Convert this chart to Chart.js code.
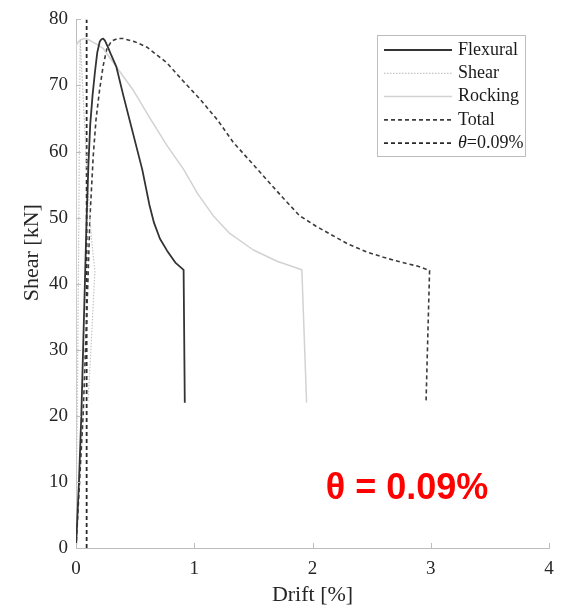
<!DOCTYPE html>
<html>
<head>
<meta charset="utf-8">
<script src="https://cdn.jsdelivr.net/npm/chart.js@4.4.1/dist/chart.umd.min.js"></script>
<style>
  body { margin: 0; background: #fff; }
  #wrap { width: 562px; height: 606px; position: relative; }
</style>
</head>
<body>
<div id="wrap"><canvas id="chart"></canvas></div>
<script>
// drift [%] and shear [kN]
const flexDrift  = [0, 0.025, 0.045, 0.06, 0.075, 0.09, 0.105, 0.12, 0.14, 0.16, 0.18, 0.2, 0.215, 0.23, 0.245, 0.27, 0.3, 0.34, 0.4, 0.48, 0.56, 0.62, 0.66, 0.71, 0.77, 0.84, 0.91, 0.92];
const flexShear  = [0, 10, 20, 30, 40, 50, 58, 64, 68.5, 72, 75, 76.6, 77.0, 77.1, 76.8, 75.8, 74.5, 72.9, 68.5, 62.9, 57.3, 52, 49.2, 46.8, 45, 43.2, 42.1, 22];

const shearDrift = [0, 0.01, 0.02, 0.028, 0.035, 0.05, 0.07, 0.09, 0.11, 0.13, 0.15, 0.16, 0.14, 0.12, 0.1];
const shearShear = [0, 20, 40, 60, 77, 72, 65, 58, 52, 47, 43.5, 42, 35, 28, 22];

const rockDrift  = [0, 0, 0.02, 0.05, 0.08, 0.12, 0.17, 0.23, 0.35, 0.48, 0.62, 0.77, 0.91, 1.03, 1.16, 1.3, 1.5, 1.7, 1.91, 1.93, 1.95];
const rockShear  = [0, 76, 76.6, 77, 77.1, 76.8, 76.3, 75.6, 72.6, 69.4, 65.2, 60.9, 57.3, 53.6, 50.3, 47.6, 45.1, 43.4, 42.1, 32, 22];

const totalDrift = [0, 0.03, 0.06, 0.08, 0.1, 0.118, 0.146, 0.17, 0.2, 0.23, 0.26, 0.3, 0.35, 0.4, 0.5, 0.6, 0.77, 0.9, 1.05, 1.2, 1.33, 1.47, 1.61, 1.75, 1.89, 2.03, 2.17, 2.3, 2.46, 2.6, 2.74, 2.88, 2.99, 2.96];
const totalShear = [0, 10, 20, 30, 40, 50, 59.4, 65, 69.4, 73, 75.5, 76.7, 77.1, 77.1, 76.6, 75.8, 73.4, 70.8, 67.9, 64.7, 61.4, 58.6, 55.8, 53, 50.3, 48.7, 47.3, 46, 44.8, 44, 43.3, 42.7, 42, 22];

const thetaDrift = [0.09, 0.09];
const thetaShear = [0, 80];

const xTicks = [0, 1, 2, 3, 4];
const yTicks = [0, 10, 20, 30, 40, 50, 60, 70, 80];

const serif = "'Liberation Serif', 'Times New Roman', serif";

const pts = (xs, ys) => xs.map((x, i) => ({ x: x, y: ys[i] }));

const makeSet = (label, xs, ys, color, width, dash) => ({
    label: label,
    data: pts(xs, ys),
    borderColor: color,
    borderWidth: width,
    borderDash: dash,
    borderJoinStyle: "round",
    showLine: true,
    pointRadius: 0,
    tension: 0,
    fill: false
});

// inward tick marks, the y title, the red note and the boxed legend
const extras = {
    id: "extras",
    afterDraw(chart) {
        const ctx = chart.ctx;
        const xs = chart.scales.x, ys = chart.scales.y;
        const area = chart.chartArea;

        ctx.save();
        ctx.strokeStyle = "#bdbdbd";
        ctx.lineWidth = 1;
        ctx.beginPath();
        xTicks.forEach((v) => {
            const px = Math.round(xs.getPixelForValue(v)) + 0.5;
            ctx.moveTo(px, area.bottom);
            ctx.lineTo(px, area.bottom - 5);
        });
        yTicks.forEach((v) => {
            const py = Math.round(ys.getPixelForValue(v)) + 0.5;
            ctx.moveTo(area.left, py);
            ctx.lineTo(area.left + 5, py);
        });
        ctx.stroke();

        // y axis title
        ctx.fillStyle = "#262626";
        ctx.font = "22px " + serif;
        ctx.textAlign = "center";
        ctx.textBaseline = "middle";
        ctx.translate(32, (area.top + area.bottom) / 2 - 31);
        ctx.rotate(-Math.PI / 2);
        ctx.fillText("Shear [kN]", 0, 0);
        ctx.restore();

        // red note
        ctx.save();
        ctx.fillStyle = "#ff0000";
        ctx.font = "bold 36px 'Liberation Sans', Arial, sans-serif";
        ctx.textAlign = "center";
        ctx.textBaseline = "middle";
        ctx.fillText("\u03b8 = 0.09%", xs.getPixelForValue(2.8), ys.getPixelForValue(8.9));
        ctx.restore();

        // legend
        const bx = 377.5, by = 35.5, bw = 148, bh = 121;
        ctx.save();
        ctx.fillStyle = "#fff";
        ctx.fillRect(bx, by, bw, bh);
        ctx.strokeStyle = "#bdbdbd";
        ctx.lineWidth = 1;
        ctx.strokeRect(bx, by, bw, bh);
        chart.data.datasets.forEach((ds, i) => {
            const y = 50 + i * 23.3;
            ctx.strokeStyle = ds.borderColor;
            ctx.lineWidth = ds.borderWidth;
            ctx.setLineDash(ds.borderDash || []);
            ctx.beginPath();
            ctx.moveTo(384, y);
            ctx.lineTo(452, y);
            ctx.stroke();
            ctx.setLineDash([]);

            ctx.fillStyle = "#1a1a1a";
            ctx.textAlign = "left";
            ctx.textBaseline = "middle";
            let tx = 458;
            let text = ds.label;
            if (text.charAt(0) === "\u03b8") {
                ctx.font = "italic 18px " + serif;
                ctx.fillText("\u03b8", tx, y);
                tx += ctx.measureText("\u03b8").width;
                text = text.slice(1);
            }
            ctx.font = "18px " + serif;
            ctx.fillText(text, tx, y);
        });
        ctx.restore();
    }
};

new Chart(document.getElementById("chart"), {
    type: "scatter",
    data: {
        datasets: [
            makeSet("Flexural", flexDrift, flexShear, "#333333", 1.8, []),
            makeSet("Shear", shearDrift, shearShear, "#c4c4c4", 1.2, [1.5, 1.5]),
            makeSet("Rocking", rockDrift, rockShear, "#d2d2d2", 1.5, []),
            makeSet("Total", totalDrift, totalShear, "#3c3c3c", 1.6, [4, 3]),
            makeSet("\u03b8=0.09%", thetaDrift, thetaShear, "#2a2a2a", 1.8, [4, 3])
        ]
    },
    options: {
        responsive: true,
        maintainAspectRatio: false,
        animation: false,
        layout: { padding: { left: 21, right: 13, top: 16, bottom: 0 } },
        plugins: {
            legend: { display: false },
            tooltip: { enabled: false }
        },
        scales: {
            x: {
                type: "linear",
                min: 0,
                max: 4,
                afterFit: (scale) => {
                    scale.height = 58;
                    scale.paddingLeft = 0;
                    scale.paddingRight = 0;
                },
                ticks: {
                    stepSize: 1,
                    padding: 10,
                    color: "#262626",
                    font: { family: serif, size: 19 }
                },
                grid: { display: false, drawTicks: false },
                border: { display: true, color: "#bdbdbd", width: 1 },
                title: {
                    display: true,
                    text: "Drift [%]",
                    color: "#262626",
                    font: { family: serif, size: 22, lineHeight: 1 },
                    padding: { top: 0, bottom: 0 }
                }
            },
            y: {
                type: "linear",
                min: 0,
                max: 80,
                afterFit: (scale) => { scale.width = 55; },
                ticks: {
                    stepSize: 10,
                    padding: 8,
                    color: "#262626",
                    font: { family: serif, size: 19 }
                },
                grid: { display: false, drawTicks: false },
                border: { display: true, color: "#bdbdbd", width: 1 }
            }
        }
    },
    plugins: [extras]
});
</script>
</body>
</html>
